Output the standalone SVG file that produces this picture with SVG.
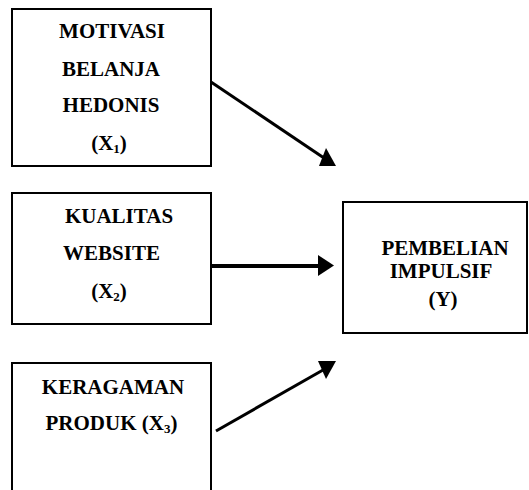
<svg xmlns="http://www.w3.org/2000/svg" width="529" height="490" viewBox="0 0 529 490">
<style>
.box{fill:#fff;stroke:#000;stroke-width:2}
.t{font-family:'Liberation Serif',serif;font-weight:700;font-size:21px;fill:#000}
.m{text-anchor:middle}
.sub{font-size:13px}
.ln{stroke:#000;stroke-width:3;fill:none}
.thick{stroke-width:4}
.hd{fill:#000}
</style>
<rect width="529" height="490" fill="#fff"/>
<g id="x1">
<rect class="box" x="12" y="9" width="199" height="157"/>
<text class="t m" x="112" y="37.5">MOTIVASI</text>
<text class="t m" x="111" y="75.5">BELANJA</text>
<text class="t m" x="111" y="112">HEDONIS</text>
<text class="t m" x="109" y="150">(X<tspan class="sub" dy="3">1</tspan><tspan dy="-3">)</tspan></text>
</g>
<g id="x2">
<rect class="box" x="12" y="193" width="199" height="131"/>
<text class="t m" x="119" y="223">KUALITAS</text>
<text class="t m" x="111.5" y="260">WEBSITE</text>
<text class="t m" x="109" y="298">(X<tspan class="sub" dy="3">2</tspan><tspan dy="-3">)</tspan></text>
</g>
<g id="x3">
<rect class="box" x="12" y="363" width="199" height="140"/>
<text class="t m" x="113" y="394">KERAGAMAN</text>
<text class="t m" x="111.5" y="430">PRODUK (X<tspan class="sub" dy="3">3</tspan><tspan dy="-3">)</tspan></text>
</g>
<g id="y">
<rect class="box" x="343" y="202" width="184" height="131"/>
<text class="t m" x="445" y="255">PEMBELIAN</text>
<text class="t m" x="441" y="278">IMPULSIF</text>
<text class="t m" x="443" y="306">(Y)</text>
</g>
<g id="connectors">
<line class="ln" x1="211" y1="82" x2="324" y2="158"/>
<polygon class="hd" points="326,148 319,166 336,166"/>
<line class="ln thick" x1="211" y1="266" x2="320" y2="266"/>
<polygon class="hd" points="318,255 334,265.5 318,276"/>
<line class="ln" x1="216" y1="431" x2="323" y2="370"/>
<polygon class="hd" points="318,361 336,361 326,379"/>
</g>
</svg>
